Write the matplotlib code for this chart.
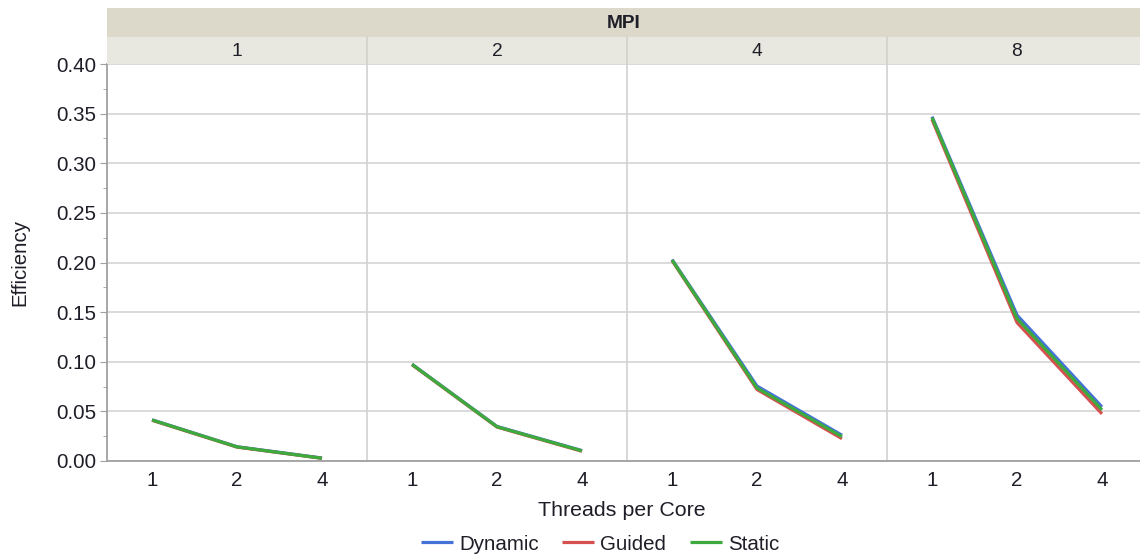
import matplotlib
matplotlib.use('Agg')
import matplotlib.pyplot as plt
from matplotlib.patches import Rectangle

plt.rcParams['font.family'] = ['Liberation Sans', 'DejaVu Sans']

# Efficiency per MPI process count (panels) and threads per core (x)
mpi_procs = ['1', '2', '4', '8']
threads = ['1', '2', '4']
dynamic = [[0.0415, 0.0144, 0.0030],
           [0.0975, 0.0348, 0.0105],
           [0.2030, 0.0755, 0.0260],
           [0.3470, 0.1470, 0.0545]]
guided = [[0.0410, 0.0140, 0.0027],
          [0.0970, 0.0342, 0.0098],
          [0.2020, 0.0720, 0.0225],
          [0.3440, 0.1395, 0.0475]]
static = [[0.0413, 0.0142, 0.0028],
          [0.0973, 0.0345, 0.0102],
          [0.2025, 0.0735, 0.0245],
          [0.3460, 0.1435, 0.0515]]
series = [('Dynamic', dynamic, '#4472d8'),
          ('Guided', guided, '#d65050'),
          ('Static', static, '#3daa3d')]

W, H = 1140, 559
fig = plt.figure(figsize=(W / 100, H / 100), dpi=100)
fig.patch.set_facecolor('white')

left, pw = 107, 260
top, bottom = 64, 461
txt = '#1e1e28'
fs = 14.8

axes = []
for i, m in enumerate(mpi_procs):
    x0 = left + i * pw
    ax = fig.add_axes([x0 / W, 1 - bottom / H, pw / W, (bottom - top) / H])
    for name, vals, col in series:
        ax.plot(range(len(threads)), vals[i], color=col, lw=2.3,
                label=name, solid_capstyle='butt')
    ax.set_xlim(-0.53, 2.53)
    ax.set_ylim(0, 0.40)
    ax.set_yticks([k * 0.05 for k in range(9)])
    ax.set_yticks([0.025 + k * 0.05 for k in range(8)], minor=True)
    ax.grid(axis='y', color='#d8d8d8', lw=1.3)
    ax.set_axisbelow(True)
    ax.set_xticks(range(len(threads)))
    ax.set_xticklabels(threads)
    ax.tick_params(axis='x', length=0, pad=7, labelsize=fs, labelcolor=txt)
    for s in ['top', 'right']:
        ax.spines[s].set_visible(False)
    ax.spines['bottom'].set_color('#a0a0a0')
    ax.spines['bottom'].set_linewidth(1.3)
    if i == 0:
        ax.spines['left'].set_color('#a0a0a0')
        ax.spines['left'].set_linewidth(1.3)
        ax.set_yticklabels([f'{k * 0.05:.2f}' for k in range(9)])
        ax.tick_params(axis='y', which='major', length=5, color='#a0a0a0',
                       labelsize=fs, labelcolor=txt, pad=3)
        ax.tick_params(axis='y', which='minor', length=3, color='#a0a0a0')
    else:
        ax.spines['left'].set_color('#d4d4d4')
        ax.spines['left'].set_linewidth(1.3)
        ax.tick_params(axis='y', which='both', length=0, labelleft=False)
    axes.append(ax)

    # panel header strip
    fig.patches.append(Rectangle((x0 / W, 1 - top / H), pw / W, 27 / H,
                                 transform=fig.transFigure, facecolor='#e8e8e0',
                                 edgecolor='none'))
    if i > 0:
        fig.lines.append(plt.Line2D([x0 / W, x0 / W], [1 - top / H, 1 - 37 / H],
                                    transform=fig.transFigure, color='#d4d4cc', lw=1.3))
    fig.text((x0 + pw / 2) / W, 1 - 51 / H, m, ha='center', va='center',
             fontsize=fs - 1, color=txt)

# outer MPI strip
fig.patches.append(Rectangle((left / W, 1 - 37 / H), (W - left) / W, 29 / H,
                             transform=fig.transFigure, facecolor='#dcd9cb',
                             edgecolor='none'))
fig.text((left + (W - left) / 2) / W, 1 - 23 / H, 'MPI', ha='center', va='center',
         fontsize=fs - 1, fontweight='bold', color=txt)

fig.text(20 / W, 1 - 262 / H, 'Efficiency', rotation=90, ha='center', va='center',
         fontsize=fs, color=txt)
fig.text(622 / W, 1 - 510 / H, 'Threads per Core', ha='center', va='center',
         fontsize=fs + 0.6, color=txt)

handles, labels = axes[0].get_legend_handles_labels()
fig.legend(handles, labels, loc='center', bbox_to_anchor=(600 / W, 1 - 544 / H),
           ncol=3, frameon=False, fontsize=fs, handlelength=1.55,
           handletextpad=0.3, columnspacing=1.15, labelcolor=txt)

fig.savefig('out.png', dpi=100, facecolor='white')
